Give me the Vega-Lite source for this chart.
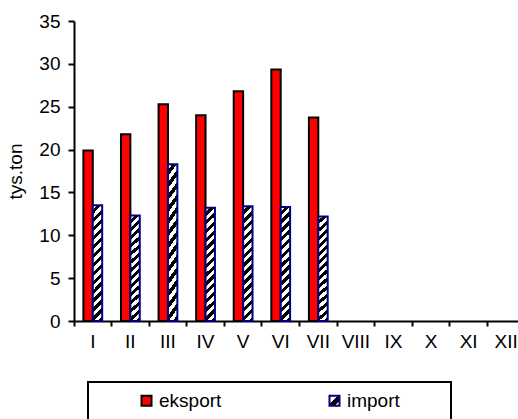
{
  "$schema": "https://vega.github.io/schema/vega-lite/v6.json",
  "width": 444,
  "height": 300,
  "autosize": {"type": "none"},
  "padding": {"left": 74, "top": 21, "right": 0, "bottom": 98},
  "background": "#ffffff",
  "config": {
    "view": {"stroke": null},
    "font": "Liberation Sans",
    "legend": {"strokeWidth": 2}
  },
  "data": {
    "values": [
      {"m": "I", "series": "eksport", "v": 19.9},
      {"m": "II", "series": "eksport", "v": 21.8},
      {"m": "III", "series": "eksport", "v": 25.3},
      {"m": "IV", "series": "eksport", "v": 24.0},
      {"m": "V", "series": "eksport", "v": 26.8},
      {"m": "VI", "series": "eksport", "v": 29.35},
      {"m": "VII", "series": "eksport", "v": 23.75},
      {"m": "I", "series": "import", "v": 13.5},
      {"m": "II", "series": "import", "v": 12.3},
      {"m": "III", "series": "import", "v": 18.3},
      {"m": "IV", "series": "import", "v": 13.2},
      {"m": "V", "series": "import", "v": 13.4},
      {"m": "VI", "series": "import", "v": 13.3},
      {"m": "VII", "series": "import", "v": 12.2}
    ]
  },
  "mark": {"type": "bar", "strokeWidth": 2, "strokeJoin": "miter"},
  "encoding": {
    "x": {
      "field": "m",
      "type": "ordinal",
      "scale": {
        "domain": ["I", "II", "III", "IV", "V", "VI", "VII", "VIII", "IX", "X", "XI", "XII"],
        "range": [0, 451],
        "paddingInner": 0,
        "paddingOuter": 0
      },
      "axis": {
        "title": null,
        "labelAngle": 0,
        "bandPosition": 0,
        "labelFontSize": 19,
        "labelColor": "#000000",
        "labelPadding": 6,
        "tickSize": 5,
        "tickWidth": 2,
        "tickColor": "#000000",
        "domainColor": "#000000",
        "domainWidth": 2,
        "grid": false
      }
    },
    "xOffset": {
      "field": "series",
      "type": "nominal",
      "scale": {"domain": ["eksport", "import"], "paddingOuter": 1, "paddingInner": 0}
    },
    "y": {
      "field": "v",
      "type": "quantitative",
      "scale": {"domain": [0, 35], "nice": false},
      "axis": {
        "title": "tys.ton",
        "titleFontSize": 19,
        "titleFontWeight": "normal",
        "titleColor": "#000000",
        "titlePadding": 13,
        "values": [0, 5, 10, 15, 20, 25, 30, 35],
        "labelFontSize": 19,
        "labelColor": "#000000",
        "labelPadding": 8,
        "tickSize": 6,
        "tickWidth": 2,
        "tickColor": "#000000",
        "domainColor": "#000000",
        "domainWidth": 2,
        "grid": false
      }
    },
    "fill": {
      "condition": {
        "test": "datum.series === 'import'",
        "value": {
          "gradient": "linear",
          "x1": 0, "y1": 0, "x2": 0.0878, "y2": 1.0745,
          "stops": [
            {"offset": 0, "color": "#ffffff"}, {"offset": 0.0357, "color": "#ffffff"},
            {"offset": 0.0357, "color": "#000000"}, {"offset": 0.0714, "color": "#000000"},
            {"offset": 0.0714, "color": "#ffffff"}, {"offset": 0.1071, "color": "#ffffff"},
            {"offset": 0.1071, "color": "#000000"}, {"offset": 0.1429, "color": "#000000"},
            {"offset": 0.1429, "color": "#ffffff"}, {"offset": 0.1786, "color": "#ffffff"},
            {"offset": 0.1786, "color": "#000000"}, {"offset": 0.2143, "color": "#000000"},
            {"offset": 0.2143, "color": "#ffffff"}, {"offset": 0.25, "color": "#ffffff"},
            {"offset": 0.25, "color": "#000000"}, {"offset": 0.2857, "color": "#000000"},
            {"offset": 0.2857, "color": "#ffffff"}, {"offset": 0.3214, "color": "#ffffff"},
            {"offset": 0.3214, "color": "#000000"}, {"offset": 0.3571, "color": "#000000"},
            {"offset": 0.3571, "color": "#ffffff"}, {"offset": 0.3929, "color": "#ffffff"},
            {"offset": 0.3929, "color": "#000000"}, {"offset": 0.4286, "color": "#000000"},
            {"offset": 0.4286, "color": "#ffffff"}, {"offset": 0.4643, "color": "#ffffff"},
            {"offset": 0.4643, "color": "#000000"}, {"offset": 0.5, "color": "#000000"},
            {"offset": 0.5, "color": "#ffffff"}, {"offset": 0.5357, "color": "#ffffff"},
            {"offset": 0.5357, "color": "#000000"}, {"offset": 0.5714, "color": "#000000"},
            {"offset": 0.5714, "color": "#ffffff"}, {"offset": 0.6071, "color": "#ffffff"},
            {"offset": 0.6071, "color": "#000000"}, {"offset": 0.6429, "color": "#000000"},
            {"offset": 0.6429, "color": "#ffffff"}, {"offset": 0.6786, "color": "#ffffff"},
            {"offset": 0.6786, "color": "#000000"}, {"offset": 0.7143, "color": "#000000"},
            {"offset": 0.7143, "color": "#ffffff"}, {"offset": 0.75, "color": "#ffffff"},
            {"offset": 0.75, "color": "#000000"}, {"offset": 0.7857, "color": "#000000"},
            {"offset": 0.7857, "color": "#ffffff"}, {"offset": 0.8214, "color": "#ffffff"},
            {"offset": 0.8214, "color": "#000000"}, {"offset": 0.8571, "color": "#000000"},
            {"offset": 0.8571, "color": "#ffffff"}, {"offset": 0.8929, "color": "#ffffff"},
            {"offset": 0.8929, "color": "#000000"}, {"offset": 0.9286, "color": "#000000"},
            {"offset": 0.9286, "color": "#ffffff"}, {"offset": 0.9643, "color": "#ffffff"},
            {"offset": 0.9643, "color": "#000000"}, {"offset": 1, "color": "#000000"}
          ]
        }
      },
      "field": "series",
      "type": "nominal",
      "scale": {
        "domain": ["eksport", "import"],
        "range": [
          "#FF0000",
          {"expr": "{gradient: 'linear', x1: 0, y1: 0, x2: 1, y2: 0.0926, stops: [{offset: 0, color: '#ffffff'}, {offset: 0.0771, color: '#ffffff'}, {offset: 0.0771, color: '#000000'}, {offset: 0.1432, color: '#000000'}, {offset: 0.1432, color: '#ffffff'}, {offset: 1, color: '#ffffff'}]}"}
        ]
      },
      "legend": {
        "orient": "none",
        "legendX": 14,
        "legendY": 361,
        "direction": "horizontal",
        "title": null,
        "strokeColor": "#000000",
        "padding": 9,
        "symbolType": "M-1,-1H1V1H-1Z M20.6,0",
        "symbolSize": 100,
        "symbolStrokeWidth": 2,
        "symbolOffset": 40,
        "labelOffset": 3,
        "columnPadding": 31,
        "labelFontSize": 19,
        "labelColor": "#000000"
      }
    },
    "stroke": {
      "field": "series",
      "type": "nominal",
      "scale": {"domain": ["eksport", "import"], "range": ["#000000", "#000080"]},
      "legend": {
        "orient": "none",
        "legendX": 14,
        "legendY": 361,
        "direction": "horizontal",
        "title": null
      }
    }
  }
}
